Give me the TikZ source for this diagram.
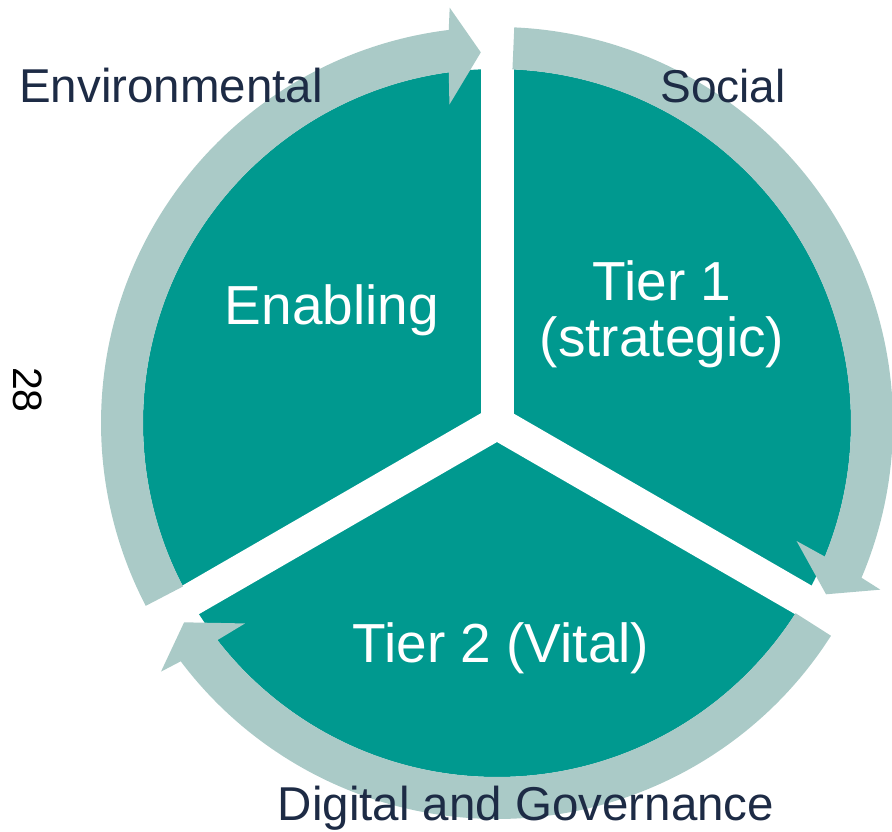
\documentclass[tikz,border=0pt]{standalone}
\usepackage{fontspec}
\setmainfont{Liberation Sans}
\usepackage{tikz}
\definecolor{pie}{HTML}{00998F}
\definecolor{ring}{HTML}{AACAC7}
\definecolor{ink}{HTML}{1D2B45}

% one curved arrow of the outer ring: #1 = start angle, #2 = gap it points at
\newcommand{\ringarrow}[2]{%
  \pgfmathsetmacro{\ra}{#1}%
  \pgfmathsetmacro{\rbo}{#2+7}%
  \pgfmathsetmacro{\rbi}{#2+7.83}%
  \pgfmathsetmacro{\hout}{#2+6.5}%
  \pgfmathsetmacro{\hin}{#2+8.5}%
  \pgfmathsetmacro{\rtip}{#2+2.5}%
  \fill[ring] (\ra:396pt) arc[start angle=\ra, end angle=\rbo, radius=396pt]
    -- (\hout:418pt) -- (\rtip:371pt) -- (\hin:322pt) -- (\rbi:354pt)
    arc[start angle=\rbi, end angle=\ra, radius=354pt] -- cycle;}

\begin{document}
\begin{tikzpicture}[x=1pt,y=1pt,
  pillar/.style={text=ink,font=\fontsize{47.5pt}{56pt}\selectfont},
  tier/.style={text=white,font=\fontsize{55pt}{56pt}\selectfont,align=center}]
  \useasboundingbox (0,0) rectangle (892,831);
  \coordinate (C) at (497,408);

  \begin{scope}[shift={(C)}]
    % the pie and the white gaps between its three parts
    \fill[pie] (0,0) circle (354pt);
    \foreach \g in {90,-30,210}
      \draw[white,line width=33pt] (0,0) -- (\g:362pt);
    % outer ring, three arrows going clockwise
    \ringarrow{207.5}{90}
    \ringarrow{87.5}{-30}
    \ringarrow{-32.5}{-150}
  \end{scope}

  \node[tier,anchor=base] (enab) at (332,506) {Enabling};
  \node[tier] (tier1) at (662,517) {Tier 1\\(strategic)};
  \node[tier,anchor=base] (tier2) at (501,169) {Tier 2 (Vital)};

  \node[pillar,anchor=base] (env) at (171,728) {Environmental};
  \node[pillar,anchor=base,font=\fontsize{46pt}{55pt}\selectfont] (soc) at (723,728) {Social};
  \node[pillar,anchor=base] (dig) at (526,11) {Digital and Governance};
  \node[pillar,rotate=-90,font=\fontsize{41pt}{48pt}\selectfont,text=black] (page) at (28,441) {28};
\end{tikzpicture}
\end{document}
